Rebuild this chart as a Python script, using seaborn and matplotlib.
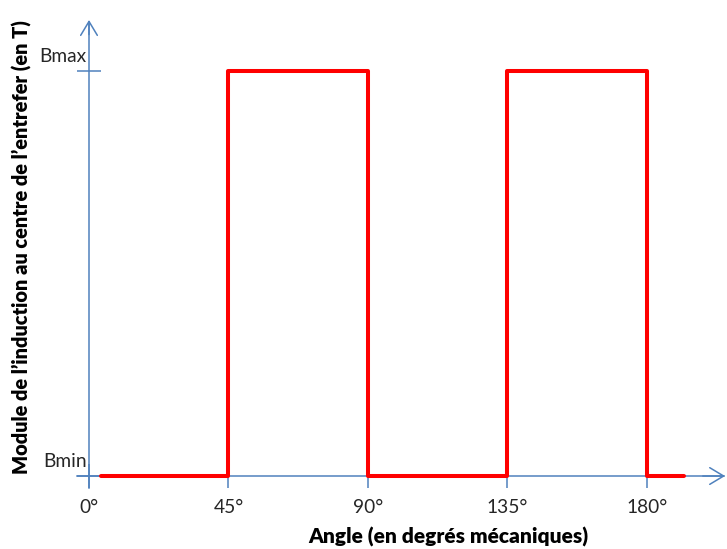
import seaborn as sns
import matplotlib.pyplot as plt
import matplotlib.transforms as mtransforms
import pandas as pd

# square wave: angle in mechanical degrees, level 0 = Bmin, 1 = Bmax
angle = [4, 45, 45, 90, 90, 135, 135, 180, 180, 192]
level = [0, 0, 1, 1, 0, 0, 1, 1, 0, 0]

xtick_values = [0, 45, 90, 135, 180]
xtick_labels = ["0°", "45°", "90°", "135°", "180°"]
ytick_values = [0, 1]
ytick_labels = ["Bmin", "Bmax"]

df = pd.DataFrame({"angle": angle, "B": level})

sns.set_style("white")
plt.rcParams["font.family"] = ["Lato", "DejaVu Sans"]

blue = "#4f81bd"

fig = plt.figure(figsize=(7.27, 5.49), dpi=100)
ax = fig.add_axes([0, 0, 1, 1])
ax.patch.set_alpha(0)

sns.lineplot(data=df, x="angle", y="B", estimator=None, sort=False,
             color="red", lw=2.9, ax=ax, zorder=3)

ax.set_xlim(-28.71, 205.81)
ax.set_ylim(-0.1802, 1.1753)

# axes drawn as arrows crossing at the origin
ax.spines["top"].set_visible(False)
ax.spines["right"].set_visible(False)
ax.spines["bottom"].set_position(("data", 0))
ax.spines["left"].set_position(("data", 0))
ax.spines["bottom"].set_bounds(-3.9, 205)
ax.spines["left"].set_bounds(-0.03, 1.12)
for side in ["bottom", "left"]:
    ax.spines[side].set_color(blue)
    ax.spines[side].set_linewidth(1.1)

arrow = dict(arrowstyle="->,head_length=1.0,head_width=0.6", color=blue, lw=1.1,
             shrinkA=0, shrinkB=0)
ax.annotate("", xy=(205.2, 0), xytext=(198, 0), arrowprops=arrow)
ax.annotate("", xy=(0, 1.126), xytext=(0, 1.09), arrowprops=arrow)

ax.set_xticks(xtick_values, xtick_labels)
ax.set_yticks(ytick_values, ytick_labels, va="baseline")
ax.tick_params(axis="both", bottom=True, left=True, direction="inout", length=17.5,
               width=1.1, color=blue, labelsize=13.8, labelcolor="#262626")
ax.tick_params(axis="x", pad=8)
ax.tick_params(axis="y", pad=-7.2)

offset = mtransforms.ScaledTranslation(0, 0.09, fig.dpi_scale_trans)
for lab in ax.get_yticklabels():
    lab.set_transform(lab.get_transform() + offset)

ax.set_xlabel("Angle (en degrés mécaniques)", fontsize=15, fontweight="heavy",
              va="center", color="black")
ax.xaxis.set_label_coords(0.616, 0.022)
ax.set_ylabel("Module de l’induction au centre de l’entrefer (en T)", fontsize=14.4,
              fontweight="heavy", va="center", color="black")
ax.yaxis.set_label_coords(0.030, 0.55)

fig.savefig("out.png", dpi=100)
